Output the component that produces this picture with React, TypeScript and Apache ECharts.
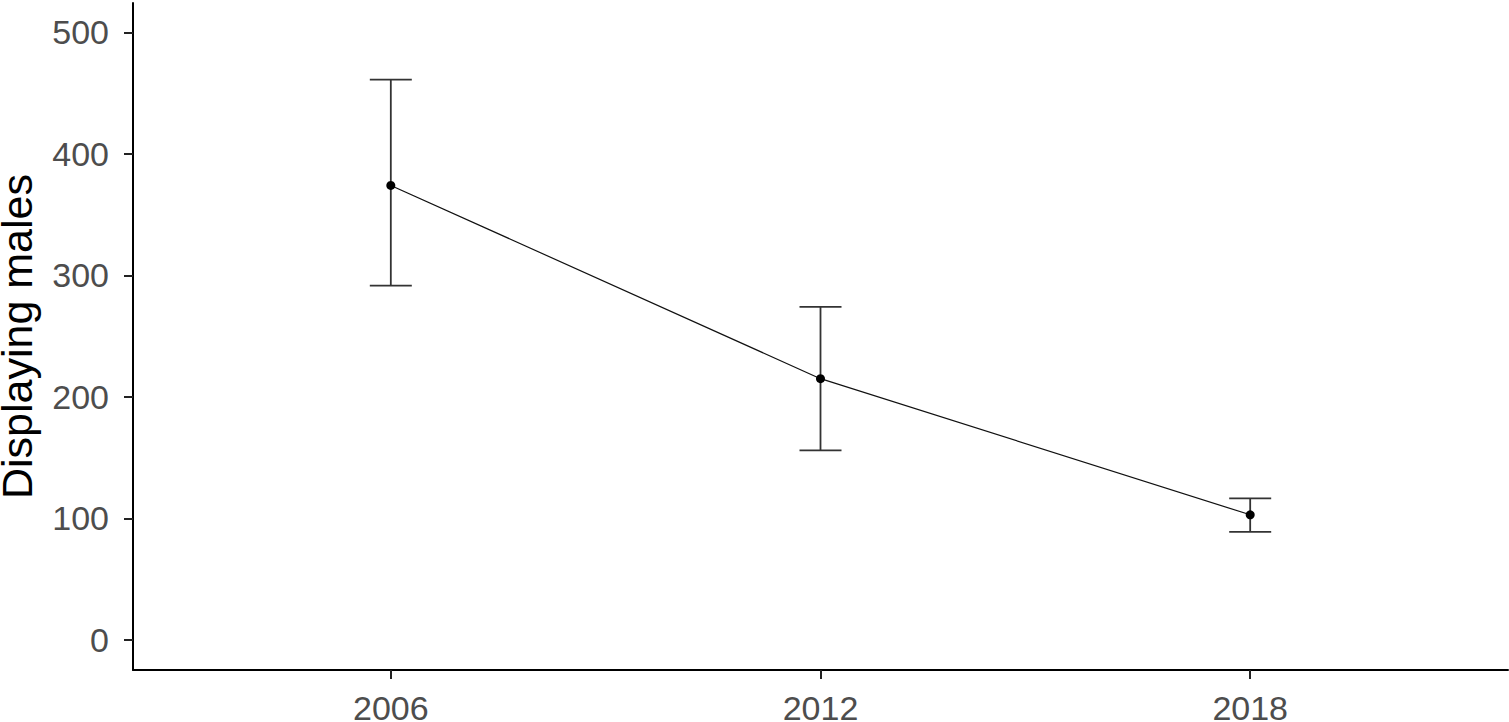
import React, { useEffect, useRef } from "react";
import * as echarts from "echarts";

const years = [2006, 2012, 2018];
const means = [374, 215, 103];
const lower = [291.5, 156, 89];
const upper = [461, 274, 116.5];
const yTicks = [0, 100, 200, 300, 400, 500];

export default function App() {
  const ref = useRef<HTMLDivElement>(null);
  useEffect(() => {
    if (!ref.current) return;
    const chart = echarts.init(ref.current, null, { renderer: "svg" });
    const errData = years.map((y, i) => [y, lower[i], upper[i]]);
    chart.setOption({
      animation: false,
      backgroundColor: "#ffffff",
      textStyle: { fontFamily: "Liberation Sans, Arial, sans-serif" },
      grid: { left: 133, right: 1, top: 3, bottom: 52, containLabel: false, outerBoundsMode: "none" },
      xAxis: {
        type: "value",
        min: 2002.4,
        max: 2021.6,
        splitLine: { show: false },
        axisLine: { show: true, onZero: false, lineStyle: { color: "#000", width: 2 } },
        axisTick: { show: true, length: 9, customValues: years, lineStyle: { color: "#222", width: 2 } },
        axisLabel: {
          customValues: years,
          color: "#4d4d4d",
          fontSize: 34,
          lineHeight: 26,
          margin: 25,
          formatter: (v: number) => String(Math.round(v)),
        },
      },
      yAxis: {
        type: "value",
        min: -24.7,
        max: 524.1,
        name: "Displaying males",
        nameLocation: "middle",
        nameGap: 100,
        nameTextStyle: { color: "#000", fontSize: 43, lineHeight: 32 },
        splitLine: { show: false },
        axisLine: { show: true, onZero: false, lineStyle: { color: "#000", width: 2 } },
        axisTick: { show: true, length: 9, customValues: yTicks, lineStyle: { color: "#222", width: 2 } },
        axisLabel: {
          customValues: yTicks,
          color: "#4d4d4d",
          fontSize: 34,
          margin: 24,
          formatter: (v: number) => String(Math.round(v)),
        },
      },
      series: [
        {
          type: "custom",
          data: errData,
          z: 2,
          renderItem: (params: any, api: any) => {
            const x = api.value(0);
            const lo = api.coord([x, api.value(1)]);
            const hi = api.coord([x, api.value(2)]);
            const hw = 21;
            const style = { stroke: "#333333", lineWidth: 1.8, fill: "none" };
            return {
              type: "group",
              children: [
                { type: "line", shape: { x1: lo[0], y1: lo[1], x2: hi[0], y2: hi[1] }, style },
                { type: "line", shape: { x1: lo[0] - hw, y1: lo[1], x2: lo[0] + hw, y2: lo[1] }, style },
                { type: "line", shape: { x1: hi[0] - hw, y1: hi[1], x2: hi[0] + hw, y2: hi[1] }, style },
              ],
            };
          },
        },
        {
          type: "line",
          data: years.map((y, i) => [y, means[i]]),
          z: 3,
          symbol: "circle",
          symbolSize: 9,
          itemStyle: { color: "#000" },
          lineStyle: { color: "#111", width: 1.2 },
        },
      ],
    });
    return () => chart.dispose();
  }, []);
  return (
    <div
      ref={ref}
      style={{ position: "fixed", left: 0, top: 0, width: 1509, height: 722, background: "#fff" }}
    />
  );
}
